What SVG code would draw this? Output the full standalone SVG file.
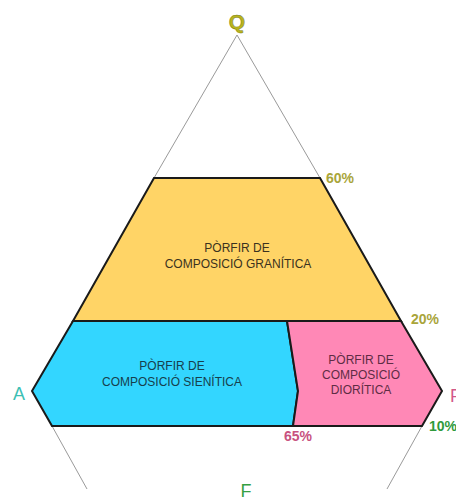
<svg xmlns="http://www.w3.org/2000/svg" width="456" height="497" viewBox="0 0 456 497">
  <style>
    .guide { fill: none; stroke: #9a9a9a; stroke-width: 1; }
    .zone { stroke: #1a1a1a; stroke-width: 2; stroke-linejoin: miter; }
    .zt { font-family: "Liberation Sans", Arial, sans-serif; font-size: 12px; text-anchor: middle; }
    .pct { font-family: "Liberation Sans", Arial, sans-serif; font-size: 14px; font-weight: bold; }
    .vx { font-family: "Liberation Sans", Arial, sans-serif; font-size: 18px; }
  </style>
  <rect width="456" height="497" fill="#ffffff"/>
  <g id="connectors">
    <line class="guide" x1="237" y1="35" x2="154" y2="178"/>
    <line class="guide" x1="237" y1="35" x2="320" y2="178"/>
    <line class="guide" x1="52" y1="426" x2="87" y2="489"/>
    <line class="guide" x1="422" y1="426" x2="387" y2="489"/>
  </g>
  <g id="granitica">
    <polygon class="zone" fill="#FFD466" points="154,178 320,178 401,321 73,321"/>
    <text class="zt" fill="#3a3220" x="237" y="252">PÒRFIR DE</text>
    <text class="zt" fill="#3a3220" x="238" y="268">COMPOSICIÓ GRANÍTICA</text>
  </g>
  <g id="sienitica">
    <polygon class="zone" fill="#33D6FF" points="73,321 287,321 298,391 293,426 52,426 32,391"/>
    <text class="zt" fill="#17404c" x="172" y="370">PÒRFIR DE</text>
    <text class="zt" fill="#17404c" x="172" y="385.5">COMPOSICIÓ SIENÍTICA</text>
  </g>
  <g id="dioritica">
    <polygon class="zone" fill="#FF88B6" points="287,321 401,321 442,391 422,426 293,426 298,391"/>
    <text class="zt" fill="#5e2c44" font-size="11.5" x="361" y="364">PÒRFIR DE</text>
    <text class="zt" fill="#5e2c44" font-size="11.5" x="361" y="379">COMPOSICIÓ</text>
    <text class="zt" fill="#5e2c44" font-size="11.5" x="361" y="394">DIORÍTICA</text>
  </g>
  <g id="labels">
    <text x="237" y="29" font-family="Liberation Sans, Arial, sans-serif" font-size="21" font-weight="bold" fill="#b8b41e" stroke="#7a7a10" stroke-width="0.5" text-anchor="middle">Q</text>
    <text class="vx" x="13" y="400" fill="#3cbfb4">A</text>
    <text class="vx" x="450" y="402" fill="#d2588a">P</text>
    <text class="vx" x="240.5" y="497" fill="#35a042">F</text>
    <text class="pct" x="326" y="183" fill="#a9a53a">60%</text>
    <text class="pct" x="411" y="324" fill="#a9a53a">20%</text>
    <text class="pct" x="284" y="441" fill="#c8527f">65%</text>
    <text class="pct" x="429" y="431" fill="#2f9a3c">10%</text>
  </g>
</svg>
